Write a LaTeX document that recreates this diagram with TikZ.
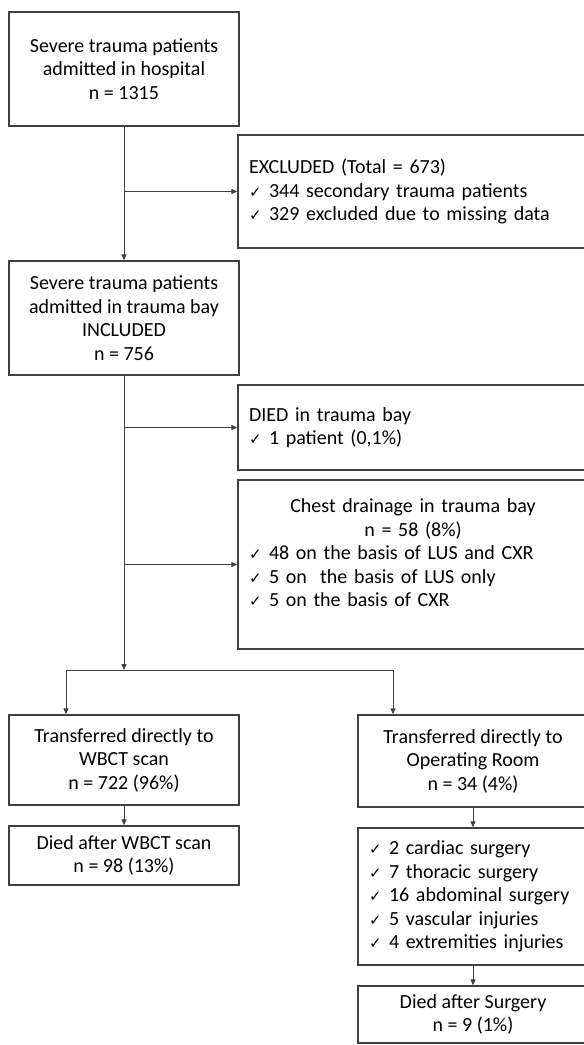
\documentclass[tikz,border=0pt]{standalone}
\usepackage{fontspec}
\setmainfont{Carlito}
\newfontfamily\symfont{DejaVu Sans}
\usetikzlibrary{arrows.meta,positioning}
\definecolor{Line}{HTML}{404040}
\newcommand{\chk}{\makebox[20pt][l]{\symfont\fontsize{15}{15}\selectfont ✓}}

\begin{document}
\begin{tikzpicture}[x=1pt,y=-1pt,
    box/.style={draw=Line,line width=1.3pt,inner sep=0pt,align=center,
      font=\fontsize{20}{23.5}\selectfont},
    listbox/.style={box,align=left,inner xsep=11pt},
    arr/.style={draw=Line,line width=1pt,-{Triangle[length=6pt,width=5pt]}}]
    \useasboundingbox (0,0) rectangle (584,1045);
    % main column
    \node[box,minimum width=230pt,minimum height=114pt] (top) at (124,69)
      {Severe trauma patients\\admitted in hospital\\n = 1315};
    \node[box,minimum width=230pt,minimum height=114pt] (incl) at (124,318)
      {Severe trauma patients\\admitted in trauma bay\\INCLUDED\\n = 756};
    % side boxes
    \node[listbox,text width=328pt,minimum height=113pt] (excl) at (413,191.5)
      {EXCLUDED (Total = 673)\\
       \chk 344 secondary trauma patients\\
       \chk 329 excluded due to missing data};
    \node[listbox,text width=328pt,minimum height=85pt] (died) at (413,427.5)
      {DIED in trauma bay\\
       \chk 1 patient (0,1\%)};
    \node[listbox,text width=328pt,minimum height=169pt] (chest) at (413,564.5)
      {\makebox[\hsize]{Chest drainage in trauma bay}\\
       \makebox[\hsize]{n = 58 (8\%)}\\
       \chk 48 on the basis of LUS and CXR\\
       \chk 5 on~ the basis of LUS only\\
       \chk 5 on the basis of CXR\\
       \mbox{}};
    % two branches
    \coordinate (split) at (124,670);
    \coordinate (splitL) at (66,670);
    \coordinate (splitR) at (393,670);
    \node[box,minimum width=230pt,minimum height=90pt] (wbct) at (124,760)
      {Transferred directly to\\WBCT scan\\n = 722 (96\%)};
    \node[box,minimum width=230pt,minimum height=59pt] (wbctdied) at (124,855.5)
      {Died after WBCT scan\\n = 98 (13\%)};
    \node[box,minimum width=230pt,minimum height=92pt] (orroom) at (473,761)
      {Transferred directly to\\Operating Room\\n = 34 (4\%)};
    \node[listbox,text width=208pt,minimum height=137pt] (surg) at (473,896.5)
      {\chk 2 cardiac surgery\\
       \chk 7 thoracic surgery\\
       \chk 16 abdominal surgery\\
       \chk 5 vascular injuries\\
       \chk 4 extremities injuries};
    \node[box,minimum width=230pt,minimum height=57pt] (surgdied) at (473,1014.5)
      {Died after Surgery\\n = 9 (1\%)};
    % connectors
    \draw[arr] (top) -- (incl);
    \draw[arr] (top.south |- excl.west) -- (excl.west);
    \draw[arr] (incl.south |- died.west) -- (died.west);
    \draw[arr] (incl.south |- chest.west) -- (chest.west);
    \draw[arr] (incl) -- (split);
    \draw[draw=Line,line width=1pt] (splitL) -- (splitR);
    \draw[arr] (splitL) -- (splitL |- wbct.north);
    \draw[arr] (splitR) -- (splitR |- orroom.north);
    \draw[arr] (wbct) -- (wbctdied);
    \draw[arr] (orroom) -- (surg);
    \draw[arr] (surg) -- (surgdied);
\end{tikzpicture}
\end{document}
